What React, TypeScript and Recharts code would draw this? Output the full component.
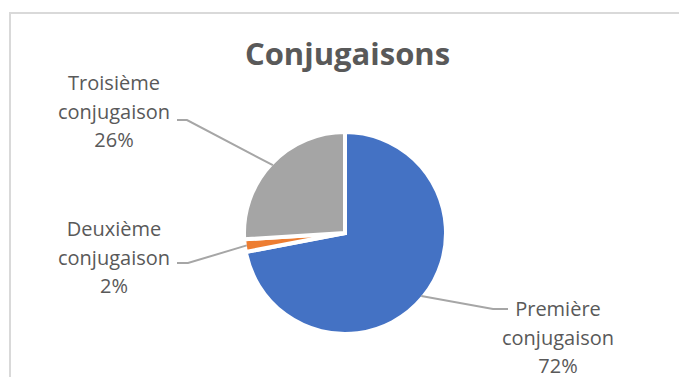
import { Cell, Pie, PieChart } from 'recharts'

const CATEGORIES = ['Première conjugaison', 'Deuxième conjugaison', 'Troisième conjugaison']
const VALUES = [72, 2, 26]
const COLORS = ['#4472C4', '#ED7D31', '#A5A5A5']

const data = CATEGORIES.map((name, i) => ({ name, value: VALUES[i] }))

// label placement (text centre, first baseline, leader elbow + end)
const LABEL_LAYOUT = [
  { x: 558, y: 316, elbowX: 493, endX: 508, lineY: 309 },
  { x: 114, y: 236, elbowX: 188, endX: 177, lineY: 263 },
  { x: 114, y: 90, elbowX: 187, endX: 177, lineY: 120 },
]

const RADIAN = Math.PI / 180
const FONT = '"Open Sans", "Noto Sans", sans-serif'

const renderLabel = (props: any) => {
  const { cx, cy, midAngle, outerRadius, index, percent, name } = props
  const pos = LABEL_LAYOUT[index]
  const sx = cx + (outerRadius - 2) * Math.cos(-midAngle * RADIAN)
  const sy = cy + (outerRadius - 2) * Math.sin(-midAngle * RADIAN)
  const words = String(name).split(' ')
  return (
    <g key={`label-${index}`}>
      <polyline
        points={`${sx},${sy} ${pos.elbowX},${pos.lineY} ${pos.endX},${pos.lineY}`}
        fill="none"
        stroke="#A6A6A6"
        strokeWidth={2}
      />
      <text textAnchor="middle" fill="#595959" fontSize={20} fontFamily={FONT}>
        <tspan x={pos.x} y={pos.y}>{words[0]}</tspan>
        <tspan x={pos.x} y={pos.y + 28.5}>{words[1]}</tspan>
        <tspan x={pos.x} y={pos.y + 57}>{Math.round(percent * 100)}%</tspan>
      </text>
    </g>
  )
}

export default function App() {
  return (
    <div style={{ position: 'absolute', left: 0, top: 0, width: 679, height: 377, overflow: 'hidden', background: '#fff' }}>
      {/* chart area frame, cut off at the right and bottom */}
      <div
        style={{
          position: 'absolute',
          left: 9,
          top: 12,
          width: 720,
          height: 420,
          border: '2px solid #D9D9D9',
        }}
      />
      <div style={{ position: 'absolute', left: 0, top: 0 }}>
        <PieChart width={679} height={377} margin={{ top: 0, right: 0, bottom: 0, left: 0 }}>
          <Pie
            data={data}
            dataKey="value"
            nameKey="name"
            cx={345}
            cy={233}
            outerRadius={101}
            startAngle={90}
            endAngle={-270}
            stroke="#fff"
            strokeWidth={4}
            label={renderLabel}
            labelLine={false}
            isAnimationActive={false}
          >
            {data.map((_entry, index) => (
              <Cell key={`cell-${index}`} fill={COLORS[index % COLORS.length]} />
            ))}
          </Pie>
        </PieChart>
      </div>
      <svg width={679} height={377} style={{ position: 'absolute', left: 0, top: 0, pointerEvents: 'none' }}>
        <text x={347.5} y={65} textAnchor="middle" fill="#595959" fontSize={31} fontWeight="bold" fontFamily={FONT}>
          Conjugaisons
        </text>
      </svg>
    </div>
  )
}
